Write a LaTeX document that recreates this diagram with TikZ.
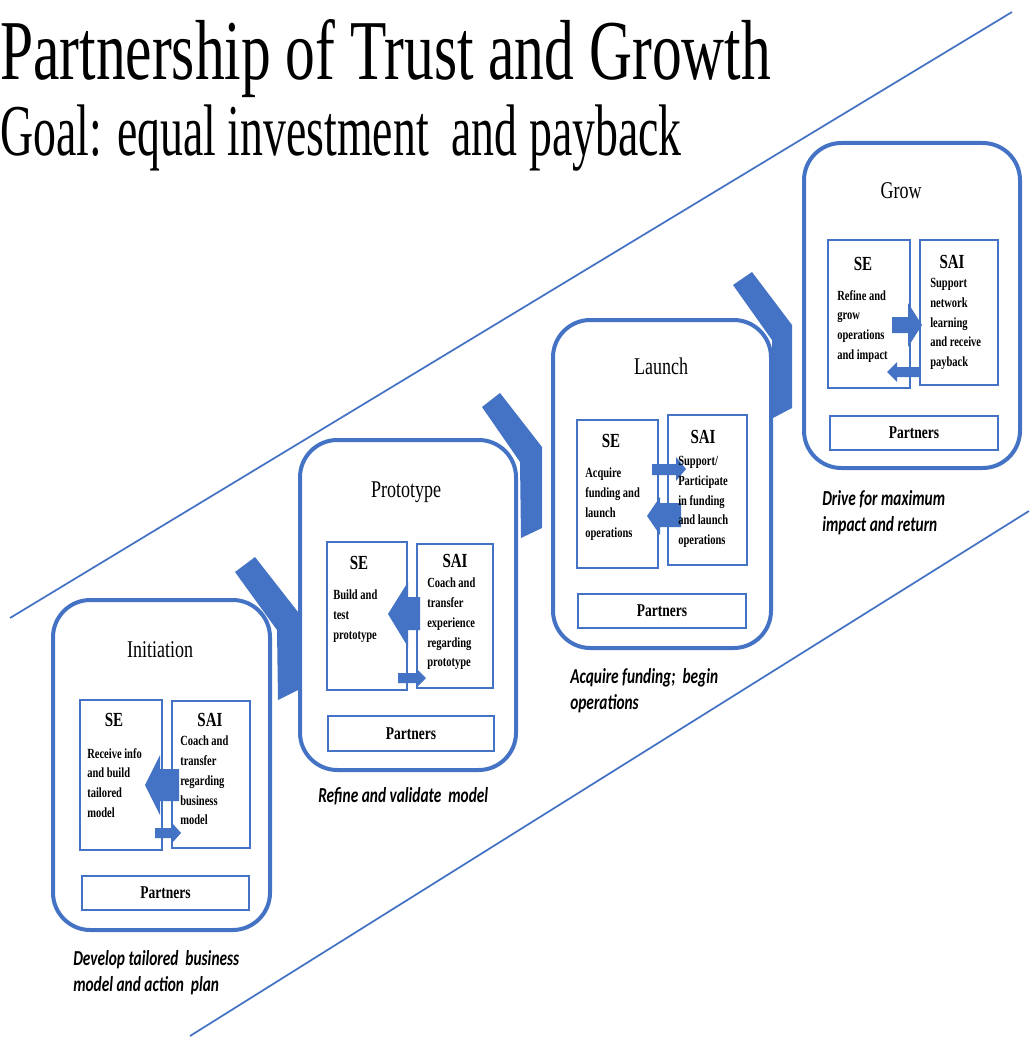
\documentclass[tikz,border=0pt]{standalone}
\usepackage{fontspec}
\setmainfont{Liberation Serif}
\newfontfamily\cf{Liberation Serif}[FakeStretch=0.75]
\newfontfamily\df{Carlito}[FakeStretch=0.72]
\definecolor{obl}{RGB}{68,114,196}
\begin{document}
\begin{tikzpicture}[x=0.75pt,y=-0.75pt,
  stage/.style={draw=obl, line width=3pt, fill=white, rounded corners=28pt},
  inbox/.style={draw=obl, line width=1.6pt, fill=white},
  chev/.style={fill=obl},
  barrow/.style={fill=obl},
  diag/.style={draw=obl, line width=1.3pt},
  ttl/.style={font=\cf\fontsize{18}{20}\selectfont, inner sep=0pt},
  hd/.style={font=\cf\bfseries\fontsize{15}{17}\selectfont, inner sep=0pt},
  body/.style={font=\cf\bfseries\fontsize{10.5}{14.8}\selectfont, align=left, anchor=north west, inner sep=0pt},
  part/.style={font=\cf\bfseries\fontsize{13.5}{15}\selectfont, inner sep=0pt},
  desc/.style={font=\df\bfseries\itshape\fontsize{16}{19.5}\selectfont, align=left, anchor=north west, inner sep=0pt}]

\useasboundingbox (0,0) rectangle (1029,1038);
\fill[white] (0,0) rectangle (1029,1038);

% title
\node[anchor=base west, inner sep=0pt] (title) at (0,80)
  {\resizebox{578pt}{45pt}{\fontsize{60}{60}\selectfont Partnership of Trust and Growth}};
\node[anchor=base west, inner sep=0pt] (subtitle) at (0,156)
  {\resizebox{511pt}{38pt}{\fontsize{60}{60}\selectfont Goal: equal investment\ \ and payback}};

% diagonal lines
\coordinate (u1) at (10,618); \coordinate (u2) at (1012,12);
\coordinate (l1) at (190,1036); \coordinate (l2) at (1029,511);
\draw[diag] (u1) -- (u2);
\draw[diag] (l1) -- (l2);

% chevrons
\fill[chev] (235,572) -- (255,557) -- (298,612) -- (298,690) -- (278,700) -- (277,630) -- cycle;
\fill[chev] (482,407) -- (500,393) -- (542,447) -- (542,528) -- (521,538) -- (520,462) -- cycle;
\fill[chev] (733,285) -- (752,272) -- (792,325) -- (792,408) -- (773,418) -- (772,340) -- cycle;

% stage boxes
\draw[stage] (53,600) rectangle (270,930);
\draw[stage] (300,440) rectangle (516,770);
\draw[stage] (553,320) rectangle (771,648);
\draw[stage] (804,143) rectangle (1020,468);

% stage titles
\node[ttl] (t1) at (160,650) {Initiation};
\node[ttl] (t2) at (406,492) {Prototype};
\node[ttl] (t3) at (661,366) {Launch};
\node[ttl] (t4) at (901,191) {Grow};

% inner boxes
\draw[inbox] (80,700) rectangle (162,850);
\draw[inbox] (172,701) rectangle (250,848);
\draw[inbox] (82,876) rectangle (249,910);

\draw[inbox] (327,542) rectangle (407,690);
\draw[inbox] (417,544) rectangle (493,688);
\draw[inbox] (328,716) rectangle (494,751);

\draw[inbox] (577,420) rectangle (658,568);
\draw[inbox] (668,415) rectangle (747,565);
\draw[inbox] (578,594) rectangle (746,628);

\draw[inbox] (828,240) rectangle (910,388);
\draw[inbox] (920,240) rectangle (998,385);
\draw[inbox] (830,416) rectangle (998,450);

% block arrows
\fill[barrow] (179,769) -- (160,769) -- (160,755) -- (145,785) -- (160,815) -- (160,801) -- (179,801) -- cycle;
\fill[barrow] (155,828) -- (173,828) -- (173,824) -- (181,833) -- (173,842) -- (173,838) -- (155,838) -- cycle;

\fill[barrow] (420,597) -- (408,597) -- (408,582) -- (388,614) -- (408,647) -- (408,630) -- (420,630) -- cycle;
\fill[barrow] (398,673) -- (417,673) -- (417,669) -- (426,678) -- (417,687) -- (417,683) -- (398,683) -- cycle;

\fill[barrow] (652,464) -- (676,464) -- (676,457) -- (686,469) -- (676,481) -- (676,475) -- (652,475) -- cycle;
\fill[barrow] (681,503) -- (660,503) -- (660,497) -- (647,516) -- (660,535) -- (660,527) -- (681,527) -- cycle;

\fill[barrow] (892,317) -- (908,317) -- (908,303) -- (922,325) -- (908,347) -- (908,333) -- (892,333) -- cycle;
\fill[barrow] (920,367) -- (897,367) -- (897,362) -- (887,372) -- (897,382) -- (897,377) -- (920,377) -- cycle;

% headers
\node[hd] (se1) at (114,720) {SE};
\node[hd] (sai1) at (210,720) {SAI};
\node[hd] (se2) at (359,563) {SE};
\node[hd] (sai2) at (455,561) {SAI};
\node[hd] (se3) at (611,441) {SE};
\node[hd] (sai3) at (703,437) {SAI};
\node[hd] (se4) at (863,264) {SE};
\node[hd] (sai4) at (952,262) {SAI};

% body text
\node[body] (b1a) at (87,748) {Receive info\\and build\\tailored\\model};
\node[body] (b1b) at (180,736) {Coach and\\transfer\\regarding\\business\\model};
\node[body] (b2a) at (333,590) {Build and\\test\\prototype};
\node[body] (b2b) at (427,578) {Coach and\\transfer\\experience\\regarding\\prototype};
\node[body] (b3a) at (585,468) {Acquire\\funding and\\launch\\operations};
\node[body] (b3b) at (678,456) {Support/\\Participate\\in funding\\and launch\\operations};
\node[body] (b4a) at (837,290) {Refine and\\grow\\operations\\and impact};
\node[body] (b4b) at (930,278) {Support\\network\\learning\\and receive\\payback};

% partners
\node[part] (p1) at (165.5,893) {Partners};
\node[part] (p2) at (411,733.5) {Partners};
\node[part] (p3) at (662,611) {Partners};
\node[part] (p4) at (914,433) {Partners};

% descriptions
\node[desc] (d1) at (73,950) {Develop tailored\ \ business\\model and action\ \ plan};
\node[desc] (d2) at (318,787) {Refine and validate\ \ model};
\node[desc] (d3) at (570,668) {Acquire funding;\ \ begin\\operations};
\node[desc] (d4) at (822,490) {Drive for maximum\\impact and return};
\end{tikzpicture}
\end{document}
